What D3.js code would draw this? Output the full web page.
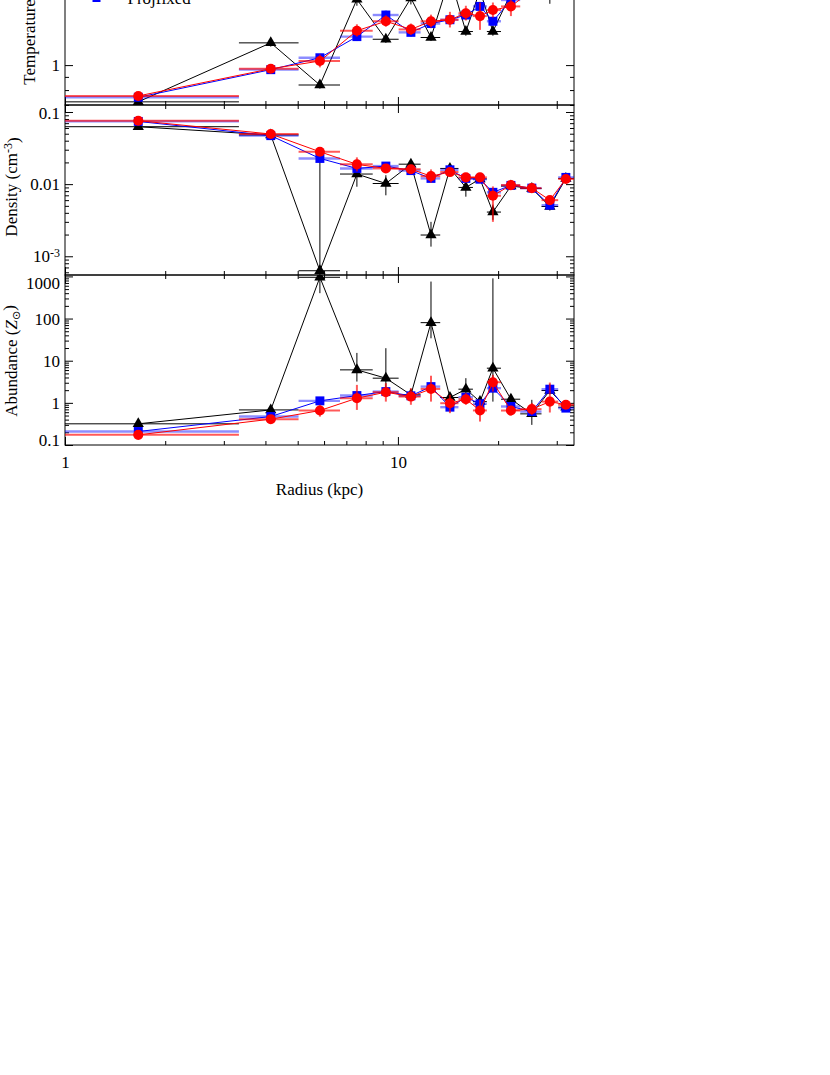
<!DOCTYPE html>
<html>
<head>
<meta charset="utf-8">
<script src="https://cdn.jsdelivr.net/npm/d3@7"></script>
<style>
  body { margin: 0; background: #fff; }
  svg { display: block; }
  text { font-family: "Liberation Serif", "Times New Roman", serif; }
</style>
</head>
<body>
<svg id="chart" width="830" height="1075"></svg>
<script>
// radial bins (kpc)
var radius = [1.66, 4.15, 5.83, 7.53, 9.2, 10.94, 12.57, 14.33, 16.0, 17.64, 19.29, 21.85, 25.25, 28.6, 31.95];
var radiusLo = [0.83, 3.33, 5.03, 6.7, 8.4, 10.05, 11.7, 13.4, 15.2, 16.8, 18.5, 20.4, 23.3, 27.0, 30.3];
var radiusHi = [3.33, 5.03, 6.7, 8.4, 10.05, 11.7, 13.4, 15.2, 16.8, 18.5, 20.4, 23.3, 27.0, 30.3, 33.8];

// temperature (keV)
var tempDeproj = [0.72, 1.22, 0.837, 1.8, 1.26, 1.82, 1.28, 2.2, 1.35, 1.95, 1.35, 1.9, 2.3, 2.6, 2.4];
var tempDeprojLo = [0.70, 1.18, 0.81, 1.7, 1.22, 1.72, 1.24, 2.05, 1.3, 1.8, 1.3, 1.78, 2.1, 1.73, 2.2];
var tempDeprojHi = [0.74, 1.26, 0.86, 1.9, 1.30, 1.92, 1.32, 2.35, 1.4, 2.1, 1.4, 2.02, 2.5, 3.2, 2.6];
var tempProjfixed = [0.75, 0.96, 1.068, 1.29, 1.565, 1.34, 1.45, 1.5, 1.565, 1.69, 1.48, 1.79, 2.0, 2.1, 2.2];
var tempProjfixedLo = [0.73, 0.93, 1.03, 1.24, 1.5, 1.29, 1.39, 1.44, 1.5, 1.62, 1.42, 1.72, 1.9, 2.0, 2.1];
var tempProjfixedHi = [0.77, 0.99, 1.10, 1.34, 1.63, 1.39, 1.51, 1.56, 1.63, 1.76, 1.54, 1.86, 2.1, 2.2, 2.3];
var tempProj = [0.759, 0.968, 1.037, 1.36, 1.48, 1.376, 1.48, 1.5, 1.59, 1.55, 1.636, 1.69, 1.95, 2.05, 2.15];
var tempProjLo = [0.74, 0.94, 0.98, 1.29, 1.41, 1.31, 1.40, 1.40, 1.49, 1.37, 1.53, 1.55, 1.82, 1.9, 2.0];
var tempProjHi = [0.78, 1.0, 1.10, 1.44, 1.56, 1.45, 1.57, 1.61, 1.70, 1.75, 1.75, 1.85, 2.1, 2.2, 2.3];

// density (cm^-3)
var densDeproj = [0.0625, 0.048, 0.00063, 0.0138, 0.0102, 0.0189, 0.00197, 0.0165, 0.009, 0.0118, 0.0041, 0.0094, 0.0087, 0.0049, 0.012];
var densDeprojLo = [0.06, 0.046, 0.0004, 0.0092, 0.0070, 0.017, 0.00136, 0.015, 0.0067, 0.011, 0.0032, 0.0088, 0.0081, 0.0043, 0.0112];
var densDeprojHi = [0.065, 0.050, 0.0227, 0.0184, 0.0133, 0.021, 0.0030, 0.0181, 0.0103, 0.0127, 0.0052, 0.0101, 0.0093, 0.0055, 0.0128];
var densProjfixed = [0.074, 0.047, 0.0227, 0.0165, 0.0178, 0.0154, 0.0120, 0.0158, 0.0120, 0.0117, 0.0077, 0.0096, 0.0088, 0.0051, 0.0124];
var densProjfixedLo = [0.072, 0.045, 0.0215, 0.0155, 0.0168, 0.0146, 0.0113, 0.0150, 0.0113, 0.0110, 0.0071, 0.0091, 0.0083, 0.0047, 0.0117];
var densProjfixedHi = [0.076, 0.049, 0.0240, 0.0175, 0.0188, 0.0162, 0.0127, 0.0166, 0.0127, 0.0124, 0.0083, 0.0101, 0.0093, 0.0055, 0.0131];
var densProj = [0.0757, 0.0495, 0.0281, 0.0188, 0.0165, 0.0161, 0.0129, 0.0147, 0.0124, 0.0124, 0.0069, 0.0097, 0.0088, 0.006, 0.0118];
var densProjLo = [0.073, 0.047, 0.025, 0.0150, 0.0150, 0.0145, 0.0105, 0.0135, 0.0112, 0.0112, 0.0030, 0.0090, 0.0082, 0.0053, 0.0110];
var densProjHi = [0.078, 0.052, 0.031, 0.0235, 0.0180, 0.0177, 0.0160, 0.0160, 0.0136, 0.0136, 0.0093, 0.0104, 0.0094, 0.0068, 0.0126];

// abundance (Z_sun)
var abunDeproj = [0.318, 0.68, 953, 6.06, 3.85, 1.55, 80, 1.34, 2.11, 1.07, 6.64, 1.22, 0.548, 1.96, 0.79];
var abunDeprojLo = [0.29, 0.6, 400, 3.2, 2.03, 1.2, 34, 1.1, 1.18, 0.85, 1.07, 0.95, 0.30, 1.6, 0.68];
var abunDeprojHi = [0.35, 0.77, 2000, 15.3, 19.8, 2.0, 754, 1.7, 3.85, 1.35, 900, 1.6, 1.18, 2.4, 0.92];
var abunProjfixed = [0.209, 0.474, 1.115, 1.49, 1.85, 1.47, 2.43, 0.79, 1.36, 0.95, 2.23, 0.82, 0.62, 2.11, 0.75];
var abunProjfixedLo = [0.19, 0.42, 0.98, 1.3, 1.62, 1.3, 2.1, 0.68, 1.2, 0.83, 1.95, 0.72, 0.54, 1.85, 0.66];
var abunProjfixedHi = [0.23, 0.53, 1.26, 1.7, 2.1, 1.66, 2.8, 0.9, 1.55, 1.08, 2.55, 0.93, 0.71, 2.4, 0.85];
var abunProj = [0.174, 0.41, 0.657, 1.29, 1.79, 1.41, 2.14, 0.98, 1.22, 0.66, 3.09, 0.657, 0.71, 1.07, 0.90];
var abunProjLo = [0.16, 0.37, 0.47, 0.68, 1.07, 0.9, 1.07, 0.57, 0.9, 0.36, 1.85, 0.5, 0.52, 0.59, 0.78];
var abunProjHi = [0.19, 0.45, 0.9, 2.67, 2.93, 2.23, 4.4, 1.55, 1.7, 1.18, 4.6, 0.85, 1.0, 3.03, 1.05];

var xDomain = [1, 33.8];
var tempDomain = [0.7, 3.2];
var densDomain = [0.00055, 0.125];
var abunDomain = [0.1, 1080];

var legendLabels = ["Projfixed"];

var svg = d3.select("#chart");
var left = 65, right = 574, panelH = 170;

var x = d3.scaleLog().domain(xDomain).range([left, right]);

var styles = [
  { color: "#000000", barW: 1, barOp: 1, symbol: d3.symbolTriangle, size: 55 },
  { color: "#0000ff", barW: 2.4, barOp: 0.45, symbol: d3.symbolSquare, size: 80 },
  { color: "#ff0000", barW: 2, barOp: 0.65, symbol: d3.symbolCircle, size: 80 }
];

var panels = [
  { top: -65, domain: tempDomain, titleX: 35, titleY: 20,
    vals: [tempDeproj, tempProjfixed, tempProj],
    lo: [tempDeprojLo, tempProjfixedLo, tempProjLo],
    hi: [tempDeprojHi, tempProjfixedHi, tempProjHi] },
  { top: 105, domain: densDomain, titleX: 17, titleY: 187,
    vals: [densDeproj, densProjfixed, densProj],
    lo: [densDeprojLo, densProjfixedLo, densProjLo],
    hi: [densDeprojHi, densProjfixedHi, densProjHi] },
  { top: 275, domain: abunDomain, titleX: 17, titleY: 361,
    vals: [abunDeproj, abunProjfixed, abunProj],
    lo: [abunDeprojLo, abunProjfixedLo, abunProjLo],
    hi: [abunDeprojHi, abunProjfixedHi, abunProjHi] }
];

function isDecade(d) {
  var l = Math.log10(d);
  return Math.abs(l - Math.round(l)) < 1e-6;
}

var defs = svg.append("defs");

panels.forEach(function (p, pi) {
  var bottom = p.top + panelH;
  var y = d3.scaleLog().domain(p.domain).range([bottom, p.top]);
  var g = svg.append("g").attr("class", "panel");

  defs.append("clipPath").attr("id", "clip" + pi).append("rect")
    .attr("x", left).attr("y", p.top)
    .attr("width", right - left).attr("height", panelH);

  var yTicks = y.ticks();
  var yMajor = yTicks.filter(isDecade);
  var yMinor = yTicks.filter(function (d) { return !isDecade(d); });
  var xTicks = x.ticks();
  var xMajor = xTicks.filter(isDecade);
  var xMinor = xTicks.filter(function (d) { return !isDecade(d); });

  // y axes, ticks inward on both sides
  var yl = g.append("g").attr("transform", "translate(" + left + ",0)")
    .call(d3.axisLeft(y).tickValues(yMajor).tickSizeInner(-8).tickSizeOuter(0)
      .tickPadding(5).tickFormat(d3.format("~g")));
  g.append("g").attr("transform", "translate(" + left + ",0)")
    .call(d3.axisLeft(y).tickValues(yMinor).tickSizeInner(-4).tickSizeOuter(0).tickFormat(""));
  g.append("g").attr("transform", "translate(" + right + ",0)")
    .call(d3.axisRight(y).tickValues(yMajor).tickSizeInner(-8).tickSizeOuter(0).tickFormat(""));
  g.append("g").attr("transform", "translate(" + right + ",0)")
    .call(d3.axisRight(y).tickValues(yMinor).tickSizeInner(-4).tickSizeOuter(0).tickFormat(""));

  yl.selectAll(".tick text").each(function (d) {
    var t = d3.select(this);
    var pos = y(d);
    var shift = Math.max(p.top + 8, Math.min(bottom - 5, pos)) - pos;
    t.attr("y", shift);
    if (d < 0.005) {
      t.text("10");
      t.append("tspan").attr("dy", "-0.45em").attr("font-size", "12px").text("-3");
    }
  });

  // x axes top and bottom of each panel
  g.append("g").attr("transform", "translate(0," + p.top + ")")
    .call(d3.axisTop(x).tickValues(xMajor).tickSizeInner(-8).tickSizeOuter(0).tickFormat(""));
  g.append("g").attr("transform", "translate(0," + p.top + ")")
    .call(d3.axisTop(x).tickValues(xMinor).tickSizeInner(-4).tickSizeOuter(0).tickFormat(""));
  var xb = g.append("g").attr("transform", "translate(0," + bottom + ")")
    .call(d3.axisBottom(x).tickValues(xMajor).tickSizeInner(-8).tickSizeOuter(0)
      .tickPadding(11).tickFormat(pi === panels.length - 1 ? d3.format("~g") : ""));
  g.append("g").attr("transform", "translate(0," + bottom + ")")
    .call(d3.axisBottom(x).tickValues(xMinor).tickSizeInner(-4).tickSizeOuter(0).tickFormat(""));

  g.selectAll(".domain").remove();
  g.selectAll(".tick text").attr("font-size", "17px").attr("fill", "#000")
    .style("font-family", "'Liberation Serif', 'Times New Roman', serif");

  g.append("rect").attr("x", left).attr("y", p.top)
    .attr("width", right - left).attr("height", panelH)
    .attr("fill", "none").attr("stroke", "#000").attr("stroke-width", 1);

  // data
  var plot = g.append("g").attr("clip-path", "url(#clip" + pi + ")");
  var line = d3.line().x(function (d) { return x(d[0]); }).y(function (d) { return y(d[1]); });

  styles.forEach(function (s, si) {
    var vals = p.vals[si], lo = p.lo[si], hi = p.hi[si];
    var pts = radius.map(function (r, i) { return [r, vals[i], i]; });
    var sg = plot.append("g");

    sg.selectAll("line.xerr").data(pts).enter().append("line")
      .attr("class", "xerr")
      .attr("x1", function (d) { return x(radiusLo[d[2]]); })
      .attr("x2", function (d) { return x(radiusHi[d[2]]); })
      .attr("y1", function (d) { return y(d[1]); })
      .attr("y2", function (d) { return y(d[1]); })
      .attr("stroke", s.color).attr("stroke-width", s.barW).attr("stroke-opacity", s.barOp);

    sg.selectAll("line.yerr").data(pts).enter().append("line")
      .attr("class", "yerr")
      .attr("x1", function (d) { return x(d[0]); })
      .attr("x2", function (d) { return x(d[0]); })
      .attr("y1", function (d) { return y(lo[d[2]]); })
      .attr("y2", function (d) { return y(hi[d[2]]); })
      .attr("stroke", s.color).attr("stroke-width", s.barW).attr("stroke-opacity", s.barOp);

    sg.append("path").datum(pts).attr("d", line)
      .attr("fill", "none").attr("stroke", s.color).attr("stroke-width", 1);

    sg.selectAll("path.mark").data(pts).enter().append("path")
      .attr("class", "mark")
      .attr("d", d3.symbol().type(s.symbol).size(s.size))
      .attr("transform", function (d) { return "translate(" + x(d[0]) + "," + y(d[1]) + ")"; })
      .attr("fill", s.color);
  });

  // y title
  var title = svg.append("text")
    .attr("transform", "translate(" + p.titleX + "," + p.titleY + ") rotate(-90)")
    .attr("text-anchor", "middle").attr("font-size", "17px");
  if (pi === 0) {
    title.text("Temperature (keV)");
  } else if (pi === 1) {
    title.append("tspan").text("Density (cm");
    title.append("tspan").attr("dy", "-0.45em").attr("font-size", "12px").text("-3");
    title.append("tspan").attr("dy", "0.45em").text(")");
  } else {
    title.append("tspan").text("Abundance (");
    title.append("tspan").attr("font-style", "italic").text("Z");
    title.append("tspan").attr("dy", "0.3em").attr("font-size", "11px")
      .style("font-family", "'DejaVu Sans', sans-serif").text("\u2299");
    title.append("tspan").attr("dy", "-0.3em").text(")");
  }
});

svg.append("text").attr("x", (left + right) / 2).attr("y", 495)
  .attr("text-anchor", "middle").attr("font-size", "17px").text("Radius (kpc)");

// legend (only the lowest entry falls inside the page)
var legend = svg.append("g").attr("transform", "translate(96.5,-2)");
legend.append("path").attr("d", d3.symbol().type(d3.symbolSquare).size(64)).attr("fill", "#0000ff");
legend.append("text").attr("x", 31).attr("y", 6).attr("font-size", "17px").text(legendLabels[0]);
</script>
</body>
</html>
